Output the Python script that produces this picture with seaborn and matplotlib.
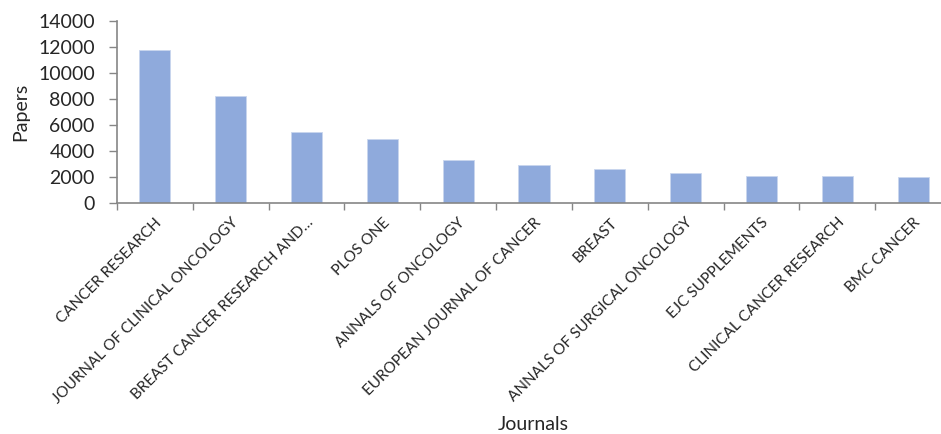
import numpy as np
import pandas as pd
import matplotlib
matplotlib.use("Agg")
import matplotlib.pyplot as plt
import seaborn as sns


journals = [
    "CANCER RESEARCH",
    "JOURNAL OF CLINICAL ONCOLOGY",
    "BREAST CANCER RESEARCH AND\u2026",
    "PLOS ONE",
    "ANNALS OF ONCOLOGY",
    "EUROPEAN JOURNAL OF CANCER",
    "BREAST",
    "ANNALS OF SURGICAL ONCOLOGY",
    "EJC SUPPLEMENTS",
    "CLINICAL CANCER RESEARCH",
    "BMC CANCER",
]
papers = [11800, 8220, 5450, 4950, 3270, 2960, 2610, 2270, 2070, 2050, 2030]
y_ticks = [0, 2000, 4000, 6000, 8000, 10000, 12000, 14000]

BAR_COLOR = "#8FAADC"
AXIS_COLOR = "#868686"

sns.set_style("white")
plt.rcParams["font.family"] = ["Lato", "DejaVu Sans"]

df = pd.DataFrame({"Journals": journals, "Papers": papers})

fig = plt.figure(figsize=(9.41, 4.34), dpi=100)
# axes runs past the right edge, like the cropped original
ax = fig.add_axes([117 / 941, 231 / 434, 834 / 941, 182 / 434])

sns.barplot(
    data=df,
    x="Journals",
    y="Papers",
    color=BAR_COLOR,
    saturation=1,
    width=0.41,
    edgecolor="#C9D6EE",
    linewidth=0.6,
    ax=ax
)

ax.set_xlim(-0.5, len(journals) - 0.5)
ax.set_ylim(0, 14000)
ax.set_yticks(y_ticks)
ax.set_yticklabels([str(t) for t in y_ticks], fontsize=14)

for side in ["top", "right"]:
    ax.spines[side].set_visible(False)
for side in ["left", "bottom"]:
    ax.spines[side].set_color(AXIS_COLOR)
    ax.spines[side].set_linewidth(1.2)

ax.tick_params(axis="y", which="major", direction="out", length=6,
               width=1.0, color=AXIS_COLOR, pad=10, left=True)

# category separators as minor ticks, labels on major ticks
ax.set_xticks(np.arange(len(journals)) - 0.5, minor=True)
ax.tick_params(axis="x", which="minor", direction="out", length=5,
               width=1.0, color=AXIS_COLOR, bottom=True)
ax.tick_params(axis="x", which="major", length=0, pad=9)
ax.set_xticks(np.arange(len(journals)))
ax.set_xticklabels(journals, rotation=45, ha="right",
                   rotation_mode="anchor", fontsize=11)

ax.set_ylabel("Papers", fontsize=14, labelpad=6)
ax.set_xlabel("")
fig.text(533 / 941, 1 - 425 / 434, "Journals", fontsize=14,
         ha="center", va="center")

fig.savefig("out.png", dpi=100)
